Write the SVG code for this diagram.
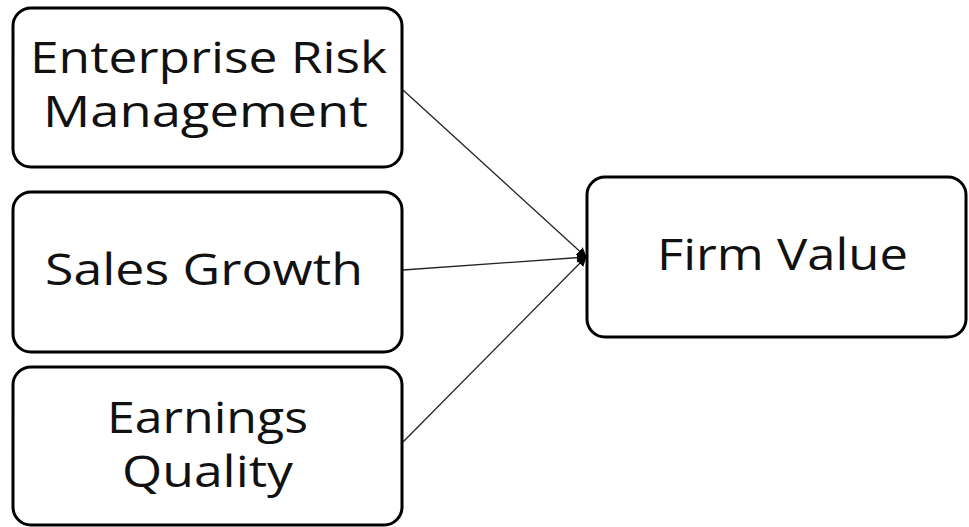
<svg xmlns="http://www.w3.org/2000/svg" width="969" height="527" viewBox="0 0 969 527">
<style>
.box{fill:#fff;stroke:#000;stroke-width:3}
.lbl{font-family:"Open Sans","Liberation Sans",sans-serif;font-size:43px;fill:#111}
.conn{stroke:#222;stroke-width:1.3;fill:none}
</style>
<defs>
<marker id="ah" viewBox="0 0 10 10" refX="9" refY="5" markerWidth="10" markerHeight="10" markerUnits="userSpaceOnUse" orient="auto">
<path d="M0,0 L10,5 L0,10 z" fill="#000"/>
</marker>
</defs>
<rect width="969" height="527" fill="#fff"/>
<g id="connectors">
<line class="conn" x1="403" y1="90" x2="586" y2="257" marker-end="url(#ah)"/>
<line class="conn" x1="403" y1="270" x2="586" y2="257" marker-end="url(#ah)"/>
<line class="conn" x1="403" y1="442" x2="586" y2="257" marker-end="url(#ah)"/>
</g>
<g id="erm">
<rect class="box" x="13" y="8" width="389" height="159" rx="18"/>
<text class="lbl" x="30" y="73" textLength="357" lengthAdjust="spacingAndGlyphs">Enterprise Risk</text>
<text class="lbl" x="43" y="127" textLength="325" lengthAdjust="spacingAndGlyphs">Management</text>
</g>
<g id="sales">
<rect class="box" x="13" y="192" width="389" height="160" rx="18"/>
<text class="lbl" x="45" y="285" textLength="318" lengthAdjust="spacingAndGlyphs">Sales Growth</text>
</g>
<g id="earnings">
<rect class="box" x="13" y="367" width="389" height="158" rx="18"/>
<text class="lbl" x="107" y="433" textLength="201" lengthAdjust="spacingAndGlyphs">Earnings</text>
<text class="lbl" x="122" y="487" textLength="171" lengthAdjust="spacingAndGlyphs">Quality</text>
</g>
<g id="firm">
<rect class="box" x="587" y="177" width="379" height="160" rx="18"/>
<text class="lbl" x="657" y="270" textLength="251" lengthAdjust="spacingAndGlyphs">Firm Value</text>
</g>
</svg>
